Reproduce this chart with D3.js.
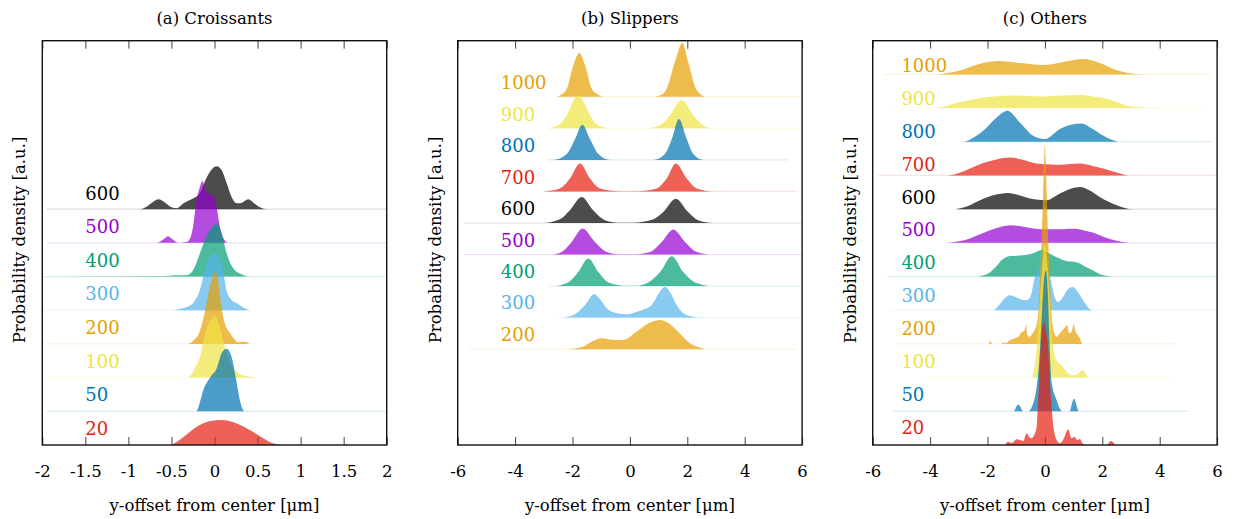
<!DOCTYPE html>
<html>
<head>
  <meta charset="utf-8">
  <script src="https://cdn.jsdelivr.net/npm/d3@7"></script>
  <style>
    body { margin: 0; background: #fff; }
    text { font-family: "DejaVu Serif", serif; fill: #000; }
  </style>
</head>
<body>
<svg width="1235" height="519"></svg>

<script>
// ---- data: density curves as [y-offset (um), density (a.u.)] ----
var croissantRuns = ["20", "50", "100", "200", "300", "400", "500", "600"];
var croissantDensity = [
  [[-0.5,0],[-0.43,3.5],[-0.36,8],[-0.21,18],[-0.05,24],[0.08,25],[0.26,21.6],[0.41,15],[0.57,6.6],[0.67,2],[0.76,0]],
  [[-1.95,0],[-0.21,0],[-0.17,9],[-0.13,21],[-0.05,34],[0.03,44],[0.08,57.6],[0.14,62.6],[0.2,54],[0.26,27.6],[0.3,9],[0.35,0],[2,0]],
  [[-2,0],[-0.31,0],[-0.28,2],[-0.23,9],[-0.17,20.6],[-0.11,44],[-0.05,57],[0.006,62],[0.064,50],[0.12,30.6],[0.18,15.6],[0.26,5.6],[0.36,1.5],[0.49,0]],
  [[-2,0],[-0.31,0],[-0.25,3],[-0.17,13],[-0.11,33],[-0.06,55],[-0.02,68],[0.006,72],[0.035,66],[0.065,48],[0.1,28],[0.13,18],[0.18,11],[0.23,5],[0.27,1.6],[0.31,2],[0.35,2.3],[0.41,0]],
  [[-2,0],[-0.48,0],[-0.4,1.5],[-0.32,3.3],[-0.24,8],[-0.17,20],[-0.09,47],[0.006,57],[0.084,47],[0.14,20],[0.2,10],[0.26,7],[0.33,3],[0.41,0]],
  [[-2,0],[-0.6,0.5],[-0.45,1.2],[-0.32,1.5],[-0.25,6],[-0.17,23],[-0.09,41],[-0.014,51],[0.026,53],[0.084,43],[0.142,23],[0.22,8],[0.32,2],[0.41,0],[2,0]],
  [[-1.95,0],[-0.67,0],[-0.6,3],[-0.54,6.6],[-0.48,3],[-0.42,0],[-0.32,1],[-0.28,5],[-0.25,16],[-0.21,42],[-0.17,56],[-0.14,62],[-0.115,56],[-0.09,50],[-0.05,49],[-0.015,47],[0.026,35],[0.064,15.6],[0.1,5],[0.16,0],[2,0]],
  [[-1.95,0],[-0.87,0],[-0.8,2],[-0.72,7],[-0.65,10],[-0.58,7],[-0.5,2],[-0.44,1],[-0.36,6],[-0.25,10.7],[-0.17,16],[-0.09,32],[-0.03,40],[0.026,43],[0.084,39],[0.142,26],[0.2,12],[0.258,6],[0.3,6],[0.393,10],[0.46,6],[0.528,2],[0.61,0],[2,0]]
];

var slipperRuns = ["200", "300", "400", "500", "600", "700", "800", "900", "1000"];
var slipperDensity = [
  [[-5.6,0],[-2.2,0],[-1.62,2.7],[-1.33,7.6],[-0.98,11],[-0.6,9.5],[-0.23,9.3],[0.23,17.6],[0.65,26],[1.05,29.3],[1.35,26],[1.63,19],[2.09,6],[2.4,2],[2.68,0],[5.8,0]],
  [[-2.5,0],[-2.44,0],[-1.97,2.7],[-1.56,12.7],[-1.25,23.4],[-1.0,17],[-0.81,9.4],[-0.45,4.5],[-0.11,3.4],[0.3,6.5],[0.76,12.7],[1.0,24],[1.22,31],[1.45,23],[1.63,12.7],[1.98,2.7],[2.56,0],[6,0]],
  [[-2.8,0],[-2.67,0],[-2.15,3.7],[-1.8,14],[-1.45,27.7],[-1.1,14],[-0.75,3.7],[-0.11,0.3],[0.2,0.3],[0.64,3.7],[1.05,14],[1.46,30],[1.86,14],[2.27,3.7],[2.9,0],[6,0]],
  [[-5.8,0],[-2.78,0],[-2.38,2.6],[-2.03,12.6],[-1.65,26],[-1.22,12.6],[-0.81,2.6],[-0.35,0.2],[0.12,0.2],[0.7,2.6],[1.11,12.6],[1.51,25],[1.92,12.6],[2.33,2.6],[2.9,0],[6,0]],
  [[-5.8,0],[-3.02,0],[-2.44,3.7],[-2.09,12.7],[-1.68,26],[-1.28,12.7],[-0.87,2.7],[-0.43,0.3],[0.1,0.3],[0.82,3.7],[1.16,11],[1.6,24.4],[2.03,11],[2.38,2.7],[2.9,0],[6,0]],
  [[-3,0],[-2.44,3],[-2.09,13],[-1.74,28],[-1.39,13],[-1.04,3],[-0.35,0.2],[0.23,0.2],[0.93,3],[1.28,13],[1.6,28],[1.98,13],[2.33,3],[2.9,0],[5.8,0]],
  [[-2.84,0],[-2.67,0],[-2.2,6],[-1.91,21],[-1.66,35.3],[-1.39,21],[-1.1,6],[-0.69,0],[0.82,0],[1.22,6],[1.46,21],[1.71,41],[1.98,21],[2.21,6],[2.56,0],[5.5,0]],
  [[-2.84,0],[-2.44,4],[-2.2,13.3],[-1.8,33.3],[-1.39,13.3],[-1.16,4],[-0.69,0],[0.59,0],[1.1,4],[1.4,13.3],[1.8,28.3],[2.21,13],[2.5,4],[2.85,0],[6,0]],
  [[-2.6,0],[-2.55,0],[-2.4,2],[-2.2,8],[-1.97,31.6],[-1.76,44],[-1.56,31.6],[-1.33,8],[-1.1,2],[-0.93,0],[0.82,0],[1.1,2],[1.28,8],[1.57,35],[1.83,54],[2.03,35],[2.33,6.6],[2.68,0],[6,0]]
];

var otherRuns = ["20", "50", "100", "200", "300", "400", "500", "600", "700", "800", "900", "1000"];
var otherDensity = [
  [[-1.39,0],[-1.28,3.3],[-1.15,2],[-0.99,5.7],[-0.87,5],[-0.75,4],[-0.64,11.7],[-0.55,8],[-0.47,6.7],[-0.37,10],[-0.29,18],[-0.23,48],[-0.15,95],[-0.09,115],[-0.03,123],[0.03,115],[0.12,95],[0.21,48],[0.3,18],[0.41,5],[0.52,1.7],[0.65,6],[0.81,15.7],[0.93,6.7],[1.04,8.3],[1.12,5],[1.22,6],[1.33,1],[1.45,0],[2.15,0],[2.3,4],[2.45,0]],
  [[-5.3,0],[-1.1,0],[-0.93,6.7],[-0.75,0],[-0.58,0],[-0.41,7.7],[-0.29,24],[-0.2,50],[-0.1,100],[-0.02,135],[0.04,141],[0.1,120],[0.16,70],[0.23,30],[0.41,11],[0.52,2.7],[0.6,0],[0.85,0],[1.01,12.7],[1.19,0],[5,0]],
  [[-4.2,0],[-0.45,0],[-0.38,8],[-0.28,30],[-0.17,80],[-0.08,115],[0,132],[0.08,115],[0.17,80],[0.28,33],[0.41,17],[0.59,12],[0.76,6],[0.93,2.3],[1.05,2.5],[1.2,5],[1.33,7.3],[1.45,2],[1.5,0],[4.4,0]],
  [[-5.2,0],[-1.95,0],[-1.9,3],[-1.84,0],[-1.5,0],[-1.45,2],[-1.4,0.5],[-1.3,2],[-1.22,4],[-1.1,5],[-1.04,6],[-0.93,7],[-0.81,12],[-0.72,13],[-0.66,19],[-0.62,10],[-0.55,7],[-0.47,9],[-0.38,13],[-0.3,18],[-0.22,35],[-0.17,65],[-0.12,101],[-0.08,135],[-0.05,165],[-0.025,185],[0,201],[0.025,185],[0.05,165],[0.08,135],[0.12,101],[0.17,65],[0.22,35],[0.29,15],[0.41,7],[0.52,10.7],[0.62,14],[0.7,16.7],[0.78,19],[0.84,11],[0.93,12],[1.01,20],[1.06,13],[1.12,10],[1.22,5.7],[1.31,0],[4.6,0]],
  [[-5.4,0],[-1.8,0],[-1.6,5],[-1.4,12],[-1.22,15],[-1.0,13],[-0.8,10.5],[-0.64,10],[-0.5,14],[-0.35,33],[-0.2,42],[0,48],[0.12,40],[0.23,27],[0.35,12],[0.46,8.3],[0.6,12],[0.8,21],[0.97,23.3],[1.15,18],[1.33,10],[1.5,3],[1.68,0],[6,0]],
  [[-5.5,0],[-2.38,0],[-2.1,1.5],[-1.91,4.3],[-1.7,10],[-1.45,17.7],[-1.2,20.5],[-0.87,21],[-0.41,23.3],[-0.12,26.7],[0.1,24],[0.41,19.3],[0.75,15.5],[1.1,14.3],[1.4,10],[1.68,6],[2.0,1.5],[2.38,0],[6,0]],
  [[-3.4,0],[-3.0,1.5],[-2.61,4.4],[-2.3,8],[-1.91,12.7],[-1.5,16.5],[-1.22,17.7],[-0.8,16.5],[-0.41,14.4],[0.1,13.5],[0.64,13.7],[1.0,14],[1.33,12.7],[1.7,10],[2.03,6],[2.5,2],[2.96,0],[6,0]],
  [[-3.1,0],[-2.7,3],[-2.26,9],[-1.8,14],[-1.28,16.3],[-0.9,14],[-0.52,10.7],[0.06,9],[0.52,15.7],[0.9,20.5],[1.22,22.3],[1.55,19],[1.91,12.3],[2.5,4],[3.07,0],[6,0]],
  [[-5.8,0],[-3.42,0],[-3.0,2.5],[-2.61,7],[-2.2,12],[-1.8,15.3],[-1.22,18],[-0.8,16],[-0.29,12],[0.2,11],[0.52,10.7],[0.9,11.5],[1.22,12],[1.6,10],[2.03,7],[2.5,3],[2.96,0],[6,0]],
  [[-2.9,0],[-2.85,0],[-2.5,4],[-2.15,11],[-1.68,24.3],[-1.31,31],[-0.87,19.3],[-0.41,6],[0,2.7],[0.52,12.7],[0.9,17],[1.28,18.3],[1.6,14],[1.91,8.3],[2.25,3],[2.61,0],[5.8,0]],
  [[-5.4,0],[-3.77,0],[-3.19,4.3],[-2.5,8.5],[-2.03,11],[-1.1,12.7],[-0.06,11.7],[0.6,12.5],[1.22,13],[1.7,11.5],[2.15,9.4],[2.6,5],[3.07,1],[3.89,0],[5.6,0]],
  [[-5.6,0],[-3.77,0],[-3.4,1.5],[-2.96,4],[-2.26,10.7],[-1.57,13.3],[-0.87,11.3],[-0.06,9.3],[0.64,12.3],[1.33,15.3],[1.91,11.3],[2.3,6.5],[2.61,3.3],[3.0,1],[3.54,0],[5.8,0]]
];

var croissantTicks = [-2, -1.5, -1, -0.5, 0, 0.5, 1, 1.5, 2];
var wideTicks = [-6, -4, -2, 0, 2, 4, 6];

// colour of each run (same palette in all panels)
var runColor = {
  "20": "#e51e10", "50": "#0072b2", "100": "#f0e442", "200": "#e69f00",
  "300": "#56b4e9", "400": "#009e73", "500": "#9400d3", "600": "#000000",
  "700": "#e51e10", "800": "#0072b2", "900": "#f0e442", "1000": "#e69f00"
};

// ---- layout ----
var frameTop = 40.7, frameBottom = 445, frameW = 344.4;
var fontSize = 16.5;

var panels = [
  { title: "(a) Croissants", runs: croissantRuns, dens: croissantDensity, left: 42.3,
    xDomain: [-2, 2], ticks: croissantTicks, yDomain: [0, 405], step: 33.75,
    labelX: -1.5, lift: [0.5, 0.47] },
  { title: "(b) Slippers", runs: slipperRuns, dens: slipperDensity, left: 457.7,
    xDomain: [-6, 6], ticks: wideTicks, yDomain: [-96, 309], step: 31.6,
    labelX: -4.5, lift: [0.47, 0.44] },
  { title: "(c) Others", runs: otherRuns, dens: otherDensity, left: 872.7,
    xDomain: [-6, 6], ticks: wideTicks, yDomain: [0, 405], step: 33.75,
    labelX: -5, lift: [0.53, 0.26] }
];

var svg = d3.select("svg");

panels.forEach(function(p) {
  var x = d3.scaleLinear().domain(p.xDomain).range([p.left, p.left + frameW]);
  var y = d3.scaleLinear().domain(p.yDomain).range([frameBottom, frameTop]);
  var g = svg.append("g");
  var n = p.runs.length;
  var lift = d3.scaleLinear().domain([0, n - 1]).range(p.lift);

  // ticks first, so the fills sit over them
  var tickFmt = function(d) { return String(d); };
  var bottom = g.append("g")
    .attr("transform", "translate(0," + frameBottom + ")")
    .call(d3.axisBottom(x).tickValues(p.ticks).tickFormat(tickFmt)
      .tickSizeInner(-8).tickSizeOuter(0).tickPadding(20));
  var top = g.append("g")
    .attr("transform", "translate(0," + frameTop + ")")
    .call(d3.axisTop(x).tickValues(p.ticks).tickFormat("")
      .tickSizeInner(-8).tickSizeOuter(0));
  [bottom, top].forEach(function(a) {
    a.select(".domain").remove();
    a.selectAll(".tick line").attr("stroke", "#444").attr("stroke-width", 1);
  });
  bottom.selectAll(".tick text")
    .attr("font-size", fontSize).attr("font-family", "DejaVu Serif").attr("fill", "#000");

  var clipId = "clip" + p.left;
  g.append("clipPath").attr("id", clipId)
    .append("rect").attr("x", x.range()[0]).attr("y", frameTop)
    .attr("width", frameW).attr("height", frameBottom - frameTop);

  var ridges = g.append("g").attr("clip-path", "url(#" + clipId + ")");

  // top row drawn first, lower rows end up on top
  for (var i = n - 1; i >= 0; i--) {
    var run = p.runs[i];
    var pts = p.dens[i];
    var base = i * p.step;
    var col = runColor[run];

    ridges.append("line")
      .attr("x1", x(pts[0][0])).attr("x2", x(pts[pts.length - 1][0]))
      .attr("y1", y(base)).attr("y2", y(base))
      .attr("stroke", col).attr("stroke-opacity", 0.13).attr("stroke-width", 1.2);

    var area = d3.area()
      .x(function(d) { return x(d[0]); })
      .y0(y(base))
      .y1(function(d) { return y(base + d[1]); })
      .curve(d3.curveMonotoneX);

    ridges.append("path")
      .datum(pts)
      .attr("d", area)
      .attr("fill", col)
      .attr("fill-opacity", 0.7);
  }

  // run labels
  g.selectAll("text.run")
    .data(p.runs)
    .enter().append("text")
    .attr("class", "run")
    .attr("x", x(p.labelX))
    .attr("y", function(d, i) { return y(i * p.step + lift(i) * p.step); })
    .attr("dy", "0.36em")
    .attr("font-size", 18)
    .style("fill", function(d) { return runColor[d]; })
    .text(function(d) { return d; });

  // frame
  g.append("rect")
    .attr("x", x.range()[0]).attr("y", frameTop)
    .attr("width", frameW).attr("height", frameBottom - frameTop)
    .attr("fill", "none").attr("stroke", "#111").attr("stroke-width", 1.4);

  var cx = p.left + frameW / 2;
  g.append("text")
    .attr("x", cx).attr("y", 23.5)
    .attr("text-anchor", "middle").attr("font-size", fontSize)
    .text(p.title);

  g.append("text")
    .attr("x", cx).attr("y", 511)
    .attr("text-anchor", "middle").attr("font-size", fontSize)
    .text("y-offset from center [\u03bcm]");

  g.append("text")
    .attr("transform", "translate(" + (p.left - 17) + "," + 240 + ") rotate(-90)")
    .attr("text-anchor", "middle").attr("font-size", fontSize)
    .text("Probability density [a.u.]");
});
</script>
</body>
</html>
